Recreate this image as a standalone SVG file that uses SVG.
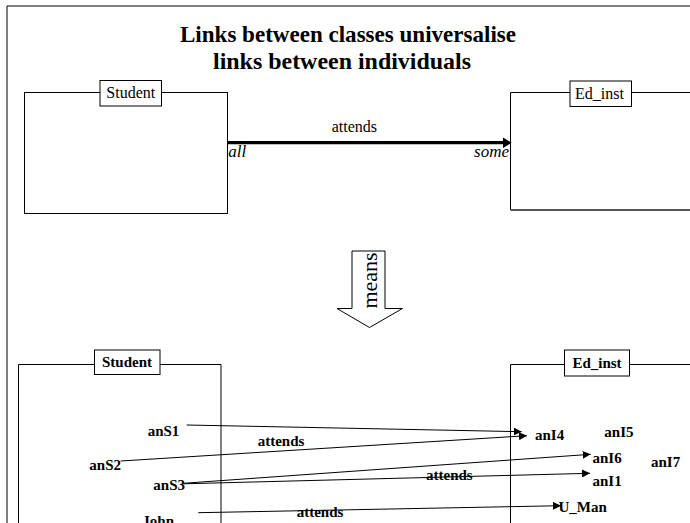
<svg xmlns="http://www.w3.org/2000/svg" width="690" height="523" viewBox="0 0 690 523">
  <style>
    text { font-family: "Liberation Serif", "Times New Roman", serif; fill: #000; }
    .title { font-size: 23px; font-weight: bold; }
    .cls { font-size: 16px; }
    .clsb { font-size: 15px; font-weight: bold; }
    .ind { font-size: 15px; font-weight: bold; }
    .rel { font-size: 16px; }
    .relb { font-size: 15px; font-weight: bold; }
    .mult { font-size: 17px; font-style: italic; }
    .box { fill: none; stroke: #000; stroke-width: 1; }
    .tag { fill: #fff; stroke: #000; stroke-width: 1; }
    .link { stroke: #000; stroke-width: 1; fill: none; marker-end: url(#tip); }
  </style>
  <defs>
    <marker id="tip" viewBox="0 0 8 8" refX="8" refY="4" markerWidth="8" markerHeight="8" markerUnits="userSpaceOnUse" orient="auto">
      <path d="M0,0 L8,4 L0,8 z" fill="#000"/>
    </marker>
    <marker id="bigtip" viewBox="0 0 9 11" refX="2.3" refY="5.5" markerWidth="9" markerHeight="11" markerUnits="userSpaceOnUse" orient="auto">
      <path d="M0,0 L9,5.5 L0,11 z" fill="#000"/>
    </marker>
  </defs>

  <rect x="0" y="0" width="690" height="523" fill="#fff"/>

  <!-- outer frame -->
  <path d="M7,523 V6 H690" class="box"/>

  <!-- heading -->
  <g id="heading">
    <text class="title" x="180" y="42" textLength="336" lengthAdjust="spacingAndGlyphs">Links between classes universalise</text>
    <text class="title" x="213" y="68.5" textLength="258" lengthAdjust="spacingAndGlyphs">links between individuals</text>
  </g>

  <!-- class level -->
  <g id="class-student">
    <rect class="box" x="24.5" y="92.5" width="203" height="121"/>
    <rect class="tag" x="100" y="80.5" width="61.5" height="25.5"/>
    <text class="cls" x="130.75" y="97.5" text-anchor="middle">Student</text>
  </g>
  <g id="class-edinst">
    <path class="box" d="M690,92.5 H510.5 V210"/>
    <path d="M510.5,210 H690" stroke="#555" stroke-width="2" fill="none"/>
    <rect class="tag" x="570" y="81" width="61.5" height="25.5"/>
    <text class="cls" x="599.5" y="98.5" text-anchor="middle">Ed_inst</text>
  </g>

  <!-- meaning arrow -->
  <g id="means-arrow">
    <polygon points="352,251 385,251 385,308.5 402.5,308.5 369.5,327.5 337,308.5 352,308.5" fill="#fff" stroke="#000" stroke-width="1"/>
    <text x="0" y="0" font-size="22" text-anchor="middle" transform="translate(377,280.5) rotate(-90)">means</text>
  </g>

  <!-- individual level -->
  <g id="set-student">
    <path class="box" d="M18.5,523 V364.5 H221 V523"/>
    <rect class="tag" x="94.5" y="350" width="65.5" height="24.5"/>
    <text class="clsb" x="127" y="367" text-anchor="middle">Student</text>
  </g>
  <g id="set-edinst">
    <path class="box" d="M690,364.5 H510.5 V523"/>
    <rect class="tag" x="564.5" y="350" width="65" height="26"/>
    <text class="clsb" x="597" y="367.5" text-anchor="middle">Ed_inst</text>
  </g>

  <g id="ind-anS1"><text class="ind" x="147.7" y="435.7">anS1</text></g>
  <g id="ind-anS2"><text class="ind" x="89.3" y="470">anS2</text></g>
  <g id="ind-anS3"><text class="ind" x="153.3" y="490">anS3</text></g>
  <g id="ind-John"><text class="ind" x="142.3" y="525.5">John</text></g>
  <g id="ind-anI4"><text class="ind" x="535" y="439.5">anI4</text></g>
  <g id="ind-anI5"><text class="ind" x="604.3" y="436.7">anI5</text></g>
  <g id="ind-anI6"><text class="ind" x="592.5" y="463">anI6</text></g>
  <g id="ind-anI7"><text class="ind" x="651" y="467.3">anI7</text></g>
  <g id="ind-anI1"><text class="ind" x="592.5" y="485.5">anI1</text></g>
  <g id="ind-UMan"><text class="ind" x="558.5" y="511.7">U_Man</text></g>

  <!-- connectors -->
  <g id="connectors">
    <line x1="227.7" y1="142.7" x2="505" y2="142.7" stroke="#000" stroke-width="3.2" marker-end="url(#bigtip)"/>
    <text class="rel" x="331.7" y="131.7">attends</text>
    <text class="mult" x="228.3" y="157.3">all</text>
    <text class="mult" x="509" y="156.7" text-anchor="end">some</text>

    <line class="link" x1="186.7" y1="425" x2="521.7" y2="431.7"/>
    <line class="link" x1="120.7" y1="461" x2="527" y2="435.7"/>
    <line class="link" x1="183.3" y1="483.3" x2="590.7" y2="454.3"/>
    <line class="link" x1="183.3" y1="483.8" x2="590" y2="473.3"/>
    <line class="link" x1="198.3" y1="512.7" x2="561" y2="505.7"/>
    <text class="relb" x="257.7" y="446">attends</text>
    <text class="relb" x="426" y="480">attends</text>
    <text class="relb" x="296.7" y="516.7">attends</text>
  </g>
</svg>
